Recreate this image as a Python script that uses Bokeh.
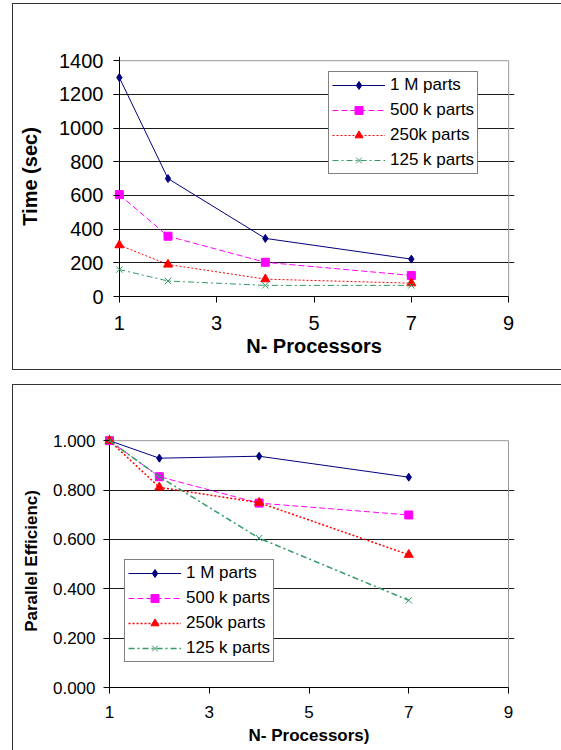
from bokeh.plotting import figure
from bokeh.models import Range1d, FixedTicker, PrintfTickFormatter, Legend, LegendItem
from bokeh.embed import file_html
from bokeh.resources import INLINE

# ---------------- data ----------------
procs = [1, 2, 4, 7]
series_labels = ["1 M parts", "500 k parts", "250k parts", "125 k parts"]

time_1m = [1300, 700, 345, 222]
time_500k = [605, 358, 203, 125]
time_250k = [305, 190, 103, 79]
time_125k = [160, 92, 66, 66]

eff_1m = [1.000, 0.929, 0.937, 0.852]
eff_500k = [1.000, 0.854, 0.747, 0.699]
eff_250k = [1.000, 0.811, 0.749, 0.538]
eff_125k = [1.000, 0.854, 0.605, 0.353]

x_ticks = [1, 3, 5, 7, 9]
time_ticks = [0, 200, 400, 600, 800, 1000, 1200, 1400]
eff_ticks = [0.0, 0.2, 0.4, 0.6, 0.8, 1.0]

x_title_top = "N- Processors"
y_title_top = "Time (sec)"
x_title_bottom = "N- Processors)"
y_title_bottom = "Parallel Efficienc)"

FONT = "Liberation Sans"
series_style = [
    dict(color="#000080", dash="solid", marker="diamond", size=8),
    dict(color="#FF00FF", dash="6 3", marker="square", size=8),
    dict(color="#FF0000", dash="2 2", marker="triangle", size=9),
    dict(color="#339966", dash="6 3 2 3", marker="x", size=9),
]

X_PAD = 0.12  # small padding so markers sitting on the axes are not clipped


def make_fig(series, y_ticks, y_pad, fmt, fw, fh, mbl, mbr, mbt, mbb,
             tick_fs, label_fs, xstand, xlstand, ystand, ylstand, ytick_len,
             legend_loc, xlabel, ylabel, widths, border_styles):
    x0, x1 = x_ticks[0], x_ticks[-1]
    y0, y1 = y_ticks[0], y_ticks[-1]
    p = figure(width=mbl + fw + mbr, height=mbt + fh + mbb,
               frame_width=fw, frame_height=fh,
               min_border_left=mbl, min_border_right=mbr,
               min_border_top=mbt, min_border_bottom=mbb,
               x_range=Range1d(x0 - X_PAD, x1 + X_PAD),
               y_range=Range1d(y0, y1 + y_pad),
               output_backend="svg", toolbar_location=None,
               background_fill_color="white", border_fill_color="white")
    p.styles = border_styles
    p.outline_line_color = None

    # horizontal gridlines
    p.ygrid.ticker = FixedTicker(ticks=y_ticks[:-1])
    p.ygrid.bounds = (x0, x1)
    p.ygrid.grid_line_color = "#1a1a1a"
    p.ygrid.grid_line_width = 1
    # value-axis line at x = first tick
    p.xgrid.ticker = FixedTicker(ticks=[x0])
    p.xgrid.bounds = (y0, y1)
    p.xgrid.grid_line_color = "black"
    p.xgrid.grid_line_width = 1

    # plot-area border (top and right) in grey
    p.segment(x0=[x0, x1], y0=[y1, y0], x1=[x1, x1], y1=[y1, y1],
              line_color="#999999", line_width=1)

    p.xaxis.ticker = FixedTicker(ticks=x_ticks)
    p.yaxis.ticker = FixedTicker(ticks=y_ticks)
    p.xaxis.bounds = (x0, x1)
    p.yaxis.bounds = (y0, y1)
    if fmt:
        p.yaxis.formatter = PrintfTickFormatter(format=fmt)
    for ax in (p.xaxis[0], p.yaxis[0]):
        ax.axis_line_color = "black"
        ax.major_tick_line_color = "black"
        ax.minor_tick_line_color = None
        ax.major_label_text_font = FONT
        ax.major_label_text_font_size = tick_fs
        ax.major_label_text_color = "black"
        ax.axis_label_text_font = FONT
        ax.axis_label_text_font_size = label_fs
        ax.axis_label_text_font_style = "bold"
        ax.axis_label_text_color = "black"
    p.xaxis.major_tick_in = 0
    p.xaxis.major_tick_out = 6
    # y axis sits at the frame edge; its ticks reach inward to the x = 1 line
    p.yaxis.axis_line_color = None
    p.yaxis.major_tick_in = ytick_len
    p.yaxis.major_tick_out = 0
    p.xaxis.axis_label = xlabel
    p.yaxis.axis_label = ylabel
    p.xaxis.major_label_standoff = xstand
    p.xaxis.axis_label_standoff = xlstand
    p.yaxis.major_label_standoff = ystand
    p.yaxis.axis_label_standoff = ylstand

    items = []
    for lab, ys, st, lw in zip(series_labels, series, series_style, widths):
        lr = p.line(procs, ys, line_color=st["color"], line_width=lw,
                    line_dash=st["dash"])
        sr = p.scatter(procs, ys, marker=st["marker"], size=st["size"],
                       fill_color=st["color"], line_color=st["color"],
                       line_width=1)
        items.append(LegendItem(label=lab, renderers=[lr, sr]))

    leg = Legend(items=items, location=legend_loc)
    leg.label_text_font = FONT
    leg.label_text_font_size = "17px"
    leg.label_text_color = "black"
    leg.border_line_color = "black"
    leg.border_line_width = 1
    leg.background_fill_color = "white"
    leg.background_fill_alpha = 1
    leg.glyph_width = 53
    leg.glyph_height = 20
    leg.label_height = 20
    leg.label_standoff = 5
    leg.spacing = 5
    leg.padding = 3
    leg.margin = 0
    p.add_layout(leg, "center")
    return p


top_styles = {"border-top": "1px solid #333", "border-left": "1px solid #333",
              "border-bottom": "1px solid #333", "box-sizing": "content-box"}
bottom_styles = {"border-top": "1px solid #333", "border-left": "1px solid #333",
                 "box-sizing": "content-box"}

p1 = make_fig([time_1m, time_500k, time_250k, time_125k], time_ticks, 25, None,
              fw=401, fh=240, mbl=100, mbr=47, mbt=52, mbb=73,
              tick_fs="20px", label_fs="20px", xstand=13, xlstand=2,
              ystand=10, ylstand=15, ytick_len=6, legend_loc=(215, 122),
              xlabel=x_title_top, ylabel=y_title_top,
              widths=[1, 1, 1, 1], border_styles=top_styles)
p1.margin = (3, 0, 0, 12)

p2 = make_fig([eff_1m, eff_500k, eff_250k, eff_125k], eff_ticks, 0.025, "%.3f",
              fw=411, fh=253, mbl=90, mbr=47, mbt=49, mbb=63,
              tick_fs="17px", label_fs="17px", xstand=12, xlstand=5,
              ystand=8, ylstand=9, ytick_len=6, legend_loc=(21, 25),
              xlabel=x_title_bottom, ylabel=y_title_bottom,
              widths=[1, 1, 1.5, 1.5], border_styles=bottom_styles)
p2.margin = (14, 0, 0, 12)

open("out.html", "w").write(file_html([p1, p2], INLINE))
